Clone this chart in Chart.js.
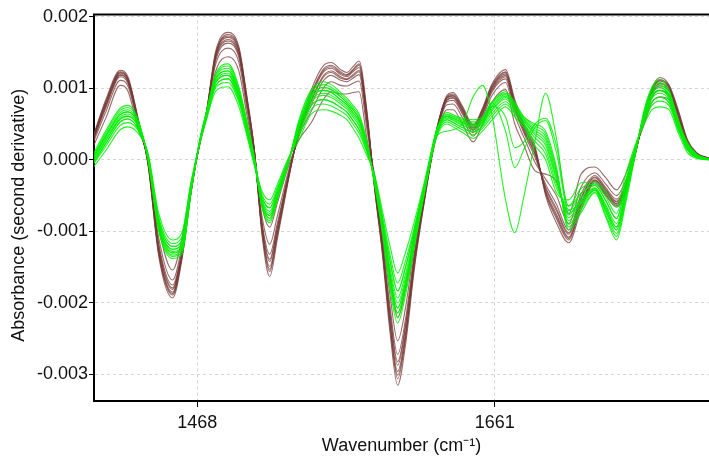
<!DOCTYPE html>
<html>
<head>
<meta charset="utf-8">
<script src="https://cdn.jsdelivr.net/npm/chart.js@4.4.1/dist/chart.umd.min.js"></script>
<style>
  html, body { margin: 0; padding: 0; background: #fff; }
  #wrap { width: 709px; height: 457px; }
</style>
</head>
<body>
<div id="wrap"><canvas id="chart"></canvas></div>
<script>
// wavenumber sample positions (cm-1), shared by every spectrum
const wavenumbers = [1400, 1409, 1418, 1423, 1430, 1436, 1443, 1452, 1458, 1464, 1470, 1474, 1480, 1488, 1495, 1500, 1505,
    1510, 1515, 1520, 1527, 1534, 1542, 1550, 1555, 1561, 1565, 1569, 1573, 1578, 1583, 1588, 1593, 1598, 1603, 1609, 1616,
    1623, 1630, 1634, 1640, 1647, 1653, 1659, 1668, 1674, 1680, 1687, 1694, 1701, 1709, 1717, 1726, 1733, 1740, 1746, 1752,
    1758, 1763, 1768, 1774, 1780, 1786, 1792, 1800];

const xTicks = [1468, 1661];
const yTicks = [-30, -20, -10, 0, 10, 20];   // second derivative, in units of 1e-4

// brown group
const brown1 = [1.6, 6.0, 10.4, 9.6, 4.0, 0.6, -9.5, -15.4, -11.0, -3.4, 2.4, 6.0, 12.4, 14.4, 12.4, 6.5, 0.5,
    -7.9, -11.8, -7.8, -1.7, 3.3, 6.8, 10.1, 10.9, 10.4, 10.3, 10.7, 11.0, 4.4, -2.7, -10.4, -18.8, -25.3, -20.8, -11.8, -3.7,
    3.6, 8.1, 8.3, 6.4, 3.8, 6.2, 9.4, 11.3, 6.9, 3.7, 0.4, -3.4, -6.2, -9.8, -4.8, -2.2, -3.9, -5.5, -3.4, 1.0, 5.8, 9.1, 10.3, 9.6, 5.9, 2.2, 0.7, 0.1];
const brown2 = [2.1, 6.9, 11.1, 10.3, 4.5, 0.2, -10.9, -16.8, -12.1, -3.8, 2.6, 6.3, 13.4, 15.6, 13.6, 7.4, 0.9,
    -6.5, -9.4, -6.0, -1.0, 2.8, 5.2, 8.5, 9.5, 9.2, 9.2, 9.4, 9.5, 3.0, -2.0, -9.0, -16.0, -22.0, -18.0, -10.0, -3.0,
    3.7, 8.4, 8.7, 6.8, 4.2, 6.5, 9.8, 11.8, 7.4, 4.1, 1.0, -4.0, -7.1, -10.4, -5.5, -2.5, -4.3, -5.9, -3.8, 0.8, 6.1, 9.4, 10.7, 9.9, 6.3, 2.4, 0.8, 0.1];
const brown3 = [2.4, 7.4, 11.6, 10.7, 4.8, -0.1, -11.7, -17.5, -12.7, -4.1, 2.7, 6.4, 13.9, 16.3, 14.3, 8.0, 1.1,
    -9.1, -13.9, -9.3, -2.3, 3.7, 8.2, 11.6, 12.2, 11.4, 11.2, 11.7, 12.3, 5.6, -3.3, -11.6, -21.2, -28.2, -23.2, -13.3, -4.3,
    3.0, 7.0, 7.0, 5.0, 2.5, 5.0, 8.0, 9.8, 5.0, 2.0, -1.5, -2.0, -3.0, -7.5, -2.0, -1.0, -2.5, -4.2, -2.0, 1.5, 5.0, 8.0, 8.8, 8.4, 4.6, 1.4, 0.4, 0.0];
const brown4 = [2.5, 7.7, 11.8, 10.9, 4.9, -0.2, -12.1, -17.9, -13.0, -4.2, 2.8, 6.5, 14.2, 16.6, 14.6, 8.3, 1.2,
    -9.7, -14.9, -10.0, -2.6, 3.9, 8.9, 12.3, 12.8, 11.9, 11.6, 12.3, 12.9, 6.2, -3.6, -12.2, -22.4, -29.6, -24.4, -14.0, -4.6,
    3.9, 8.7, 9.0, 7.1, 4.5, 6.9, 10.1, 12.2, 7.9, 4.6, 1.5, -4.5, -7.9, -11.0, -6.3, -2.9, -4.6, -6.2, -4.1, 0.7, 6.3, 9.7, 11.1, 10.2, 6.6, 2.6, 0.9, 0.2];
const brown5 = [2.6, 7.8, 11.9, 11.0, 5.0, -0.2, -12.3, -18.1, -13.1, -4.2, 2.8, 6.6, 14.4, 16.8, 14.8, 8.4, 1.2,
    -8.7, -13.2, -8.8, -2.1, 3.6, 7.7, 11.1, 11.8, 11.1, 10.9, 11.4, 11.9, 5.2, -3.1, -11.2, -20.4, -27.2, -22.4, -12.8, -4.1,
    4.0, 9.0, 9.4, 7.5, 4.9, 7.2, 10.5, 12.6, 8.4, 5.0, 2.0, -5.0, -8.8, -11.6, -7.0, -3.2, -5.0, -6.6, -4.5, 0.5, 6.5, 10.0, 11.5, 10.5, 7.0, 2.8, 1.0, 0.2];
const brown6 = [2.7, 8.1, 12.1, 11.2, 5.1, -0.4, -12.7, -18.5, -13.4, -4.4, 2.9, 6.6, 14.6, 17.1, 15.1, 8.7, 1.3,
    -10.5, -16.3, -11.0, -3.0, 4.2, 9.8, 13.2, 13.6, 12.6, 12.2, 13.0, 13.8, 7.0, -4.0, -13.0, -24.0, -31.5, -26.0, -15.0, -5.0,
    3.7, 8.3, 8.6, 6.6, 4.1, 6.4, 9.6, 11.6, 7.2, 4.0, 0.8, -3.8, -6.8, -10.2, -5.3, -2.4, -4.1, -5.8, -3.6, 0.9, 6.0, 9.3, 10.6, 9.8, 6.2, 2.3, 0.8, 0.1];
const brown7 = [2.8, 8.2, 12.2, 11.3, 5.2, -0.4, -12.9, -18.7, -13.6, -4.4, 2.9, 6.7, 14.8, 17.3, 15.3, 8.8, 1.4,
    -9.9, -15.3, -10.3, -2.7, 4.0, 9.1, 12.5, 13.0, 12.1, 11.8, 12.5, 13.2, 6.4, -3.7, -12.4, -22.8, -30.1, -24.8, -14.3, -4.7,
    3.4, 7.7, 7.8, 5.9, 3.3, 5.8, 8.9, 10.8, 6.2, 3.1, -0.3, -2.7, -5.0, -8.9, -3.8, -1.8, -3.4, -5.0, -2.9, 1.2, 5.5, 8.7, 9.7, 9.1, 5.4, 1.9, 0.6, 0.1];
const brown8 = [2.9, 8.3, 12.3, 11.4, 5.3, -0.5, -13.1, -18.9, -13.7, -4.5, 2.9, 6.7, 14.9, 17.5, 15.5, 8.9, 1.4,
    -9.3, -14.2, -9.5, -2.4, 3.8, 8.4, 11.8, 12.4, 11.6, 11.3, 11.9, 12.5, 5.8, -3.4, -11.8, -21.6, -28.7, -23.6, -13.5, -4.4,
    3.9, 8.8, 9.2, 7.3, 4.7, 7.0, 10.3, 12.3, 8.1, 4.7, 1.7, -4.7, -8.2, -11.2, -6.5, -3.0, -4.8, -6.4, -4.3, 0.6, 6.4, 9.8, 11.2, 10.3, 6.8, 2.7, 0.9, 0.2];
const brown9 = [3.0, 8.6, 12.5, 11.6, 5.4, -0.6, -13.5, -19.3, -14.0, -4.6, 3.0, 6.8, 15.2, 17.8, 15.8, 9.2, 1.5,
    -10.1, -15.6, -10.5, -2.8, 4.1, 9.3, 12.7, 13.2, 12.3, 11.9, 12.6, 13.4, 6.6, -3.8, -12.6, -23.2, -30.6, -25.2, -14.5, -4.8,
    3.8, 8.6, 8.9, 7.0, 4.4, 6.8, 10.0, 12.0, 7.7, 4.4, 1.3, -4.3, -7.6, -10.8, -6.0, -2.8, -4.5, -6.1, -4.0, 0.7, 6.2, 9.6, 11.0, 10.1, 6.5, 2.5, 0.9, 0.2];

// green group
const green1 = [-1.2, 1.4, 4.2, 4.6, 3.6, 1.0, -7.5, -11.2, -10.2, -3.0, 2.6, 5.6, 9.6, 10.2, 7.4, 3.5, -0.8,
    -5.2, -6.7, -4.2, -0.1, 3.8, 7.6, 8.4, 8.1, 7.3, 6.7, 5.5, 4.2, 1.3, -2.5, -8.1, -14.1, -18.3, -15.1, -9.7, -3.0,
    3.7, 6.1, 5.8, 5.2, 4.8, 5.4, 7.3, 8.9, 7.4, 5.6, 4.1, 2.8, -2.1, -8.5, -6.1, -4.2, -7.0, -9.8, -4.8, 1.0, 6.4, 9.2, 10.1, 9.0, 5.1, 2.0, 0.7, 0.1];
const green2 = [-0.8, 2.0, 4.8, 5.2, 4.0, 0.8, -8.0, -11.7, -10.8, -3.3, 2.7, 5.8, 10.1, 10.8, 8.0, 3.9, -0.6,
    -4.4, -5.6, -3.4, 0.2, 2.8, 6.4, 7.0, 6.8, 6.2, 5.6, 4.4, 3.0, 0.6, -2.0, -7.0, -12.0, -15.8, -13.0, -8.5, -2.5,
    4.0, 6.6, 6.3, 5.8, 5.6, 6.0, 8.0, 9.5, 8.0, 6.0, 5.0, 4.0, -1.0, -9.8, -7.4, -4.6, -8.0, -11.2, -6.0, 0.5, 7.0, 10.2, 11.2, 9.8, 5.6, 2.4, 0.8, 0.1];
const green3 = [-0.6, 2.4, 5.3, 5.7, 4.2, 0.7, -8.4, -12.1, -11.3, -3.5, 2.8, 6.0, 10.4, 11.3, 8.4, 4.2, -0.4,
    -5.7, -7.5, -4.7, -0.3, 4.5, 8.4, 9.3, 9.0, 8.1, 7.4, 6.3, 5.0, 1.8, -2.8, -8.8, -15.6, -20.0, -16.6, -10.6, -3.4,
    3.2, 5.3, 4.9, 4.2, 3.5, 4.4, 6.0, 7.8, 6.4, 4.8, 2.6, 0.8, -3.9, -6.4, -4.0, -3.4, -5.2, -7.5, -2.8, 1.7, 5.4, 7.6, 8.2, 7.6, 4.2, 1.3, 0.3, 0.0];
const green4 = [-0.3, 2.8, 5.7, 6.1, 4.5, 0.5, -8.8, -12.5, -11.7, -3.8, 2.9, 6.2, 10.8, 11.8, 8.8, 4.6, -0.2,
    -6.2, -8.2, -5.2, -0.4, 5.0, 9.1, 10.1, 9.8, 8.8, 8.0, 7.0, 5.7, 2.2, -3.1, -9.4, -16.8, -21.4, -17.8, -11.3, -3.7,
    3.5, 5.8, 5.5, 4.8, 4.3, 5.0, 6.8, 8.5, 7.0, 5.3, 3.5, 2.0, -2.8, -7.7, -5.3, -3.9, -6.3, -8.9, -4.0, 1.3, 6.0, 8.6, 9.3, 8.4, 4.7, 1.7, 0.5, 0.1];
const green5 = [-0.1, 3.1, 6.0, 6.4, 4.7, 0.4, -9.0, -12.8, -12.0, -3.9, 3.0, 6.3, 11.0, 12.1, 9.1, 4.8, -0.1,
    -4.8, -6.2, -3.8, 0.0, 3.4, 7.1, 7.8, 7.5, 6.8, 6.2, 5.0, 3.7, 1.0, -2.3, -7.6, -13.2, -17.2, -14.2, -9.2, -2.8,
    3.8, 6.3, 6.0, 5.4, 5.1, 5.6, 7.5, 9.1, 7.6, 5.7, 4.4, 3.2, -1.7, -9.0, -6.6, -4.3, -7.3, -10.3, -5.2, 0.8, 6.6, 9.6, 10.4, 9.2, 5.2, 2.1, 0.7, 0.1];
const green6 = [0.1, 3.4, 6.3, 6.7, 4.9, 0.3, -9.3, -13.0, -12.3, -4.1, 3.0, 6.4, 11.3, 12.4, 9.4, 5.0, 0.0,
    -6.6, -8.8, -5.6, -0.6, 5.6, 9.8, 10.9, 10.5, 9.4, 8.6, 7.6, 6.4, 2.6, -3.4, -10.0, -18.0, -22.8, -19.0, -12.0, -4.0,
    3.0, 5.0, 4.6, 3.8, 3.0, 4.0, 5.5, 7.4, 6.0, 4.5, 2.0, 0.0, -4.6, -5.6, -3.2, -3.1, -4.5, -6.6, -2.0, 2.0, 5.0, 7.0, 7.4, 7.0, 3.8, 1.0, 0.2, 0.0];
const green7 = [0.2, 3.6, 6.6, 7.0, 5.0, 0.2, -9.5, -13.3, -12.6, -4.2, 3.1, 6.6, 11.5, 12.8, 9.6, 5.2, 0.2,
    -5.5, -7.2, -4.5, -0.2, 4.2, 8.1, 9.0, 8.7, 7.8, 7.1, 6.0, 4.7, 1.6, -2.7, -8.5, -15.0, -19.3, -16.0, -10.3, -3.3,
    3.9, 6.4, 6.1, 5.6, 5.3, 5.8, 7.8, 9.3, 7.8, 5.9, 4.7, 3.6, -1.4, -9.4, -7.0, -4.5, -7.7, -10.7, -5.6, 0.7, 6.8, 9.9, 10.8, 9.5, 5.4, 2.3, 0.7, 0.1];
const green8 = [0.4, 3.9, 6.9, 7.3, 5.2, 0.1, -9.8, -13.5, -12.9, -4.4, 3.1, 6.7, 11.8, 13.1, 9.9, 5.4, 0.3,
    -6.0, -7.8, -5.0, -0.4, 4.8, 8.8, 9.7, 9.4, 8.4, 7.7, 6.6, 5.4, 2.0, -3.0, -9.1, -16.2, -20.7, -17.2, -11.0, -3.6,
    3.4, 5.6, 5.2, 4.5, 3.9, 4.7, 6.4, 8.1, 6.7, 5.0, 3.1, 1.4, -3.4, -7.1, -4.7, -3.6, -5.7, -8.2, -3.4, 1.5, 5.7, 8.1, 8.7, 8.0, 4.4, 1.5, 0.4, 0.0];
const green9 = [0.6, 4.2, 7.2, 7.6, 5.4, 0.0, -10.0, -13.8, -13.2, -4.5, 3.2, 6.8, 12.0, 13.4, 10.2, 5.6, 0.4,
    -6.4, -8.5, -5.4, -0.5, 5.3, 9.5, 10.5, 10.1, 9.1, 8.3, 7.3, 6.1, 2.4, -3.3, -9.7, -17.4, -22.1, -18.4, -11.7, -3.9,
    3.6, 6.0, 5.6, 5.0, 4.6, 5.2, 7.0, 8.7, 7.2, 5.4, 3.8, 2.4, -2.5, -8.1, -5.7, -4.0, -6.6, -9.4, -4.4, 1.1, 6.2, 8.9, 9.7, 8.7, 4.9, 1.8, 0.6, 0.1];
// the odd green spectra around 1650-1700
const green10 = [-0.3, 2.8, 5.7, 6.1, 4.5, 0.5, -8.8, -12.5, -11.7, -3.8, 2.9, 6.2, 10.8, 11.8, 8.8, 4.6, -0.2,
    -6.0, -7.8, -5.0, -0.4, 4.8, 8.8, 9.7, 9.4, 8.4, 7.7, 6.6, 5.4, 2.0, -3.0, -9.1, -16.2, -20.7, -17.2, -11.0, -3.6,
    3.2, 4.0, 4.2, 5.0, 8.8, 10.4, 6.5, -5.6, -10.2, -5.0, 2.5, 9.3, 3.0, -7.5, -5.7, -4.0, -6.6, -9.4, -4.4, 1.1, 6.2, 8.9, 9.7, 8.7, 4.9, 1.8, 0.6, 0.1];
const green11 = [0.1, 3.4, 6.3, 6.7, 4.9, 0.3, -9.3, -13.0, -12.3, -4.1, 3.0, 6.4, 11.3, 12.4, 9.4, 5.0, 0.0,
    -5.2, -6.7, -4.2, -0.1, 3.8, 7.6, 8.4, 8.1, 7.3, 6.7, 5.5, 4.2, 1.3, -2.5, -8.1, -14.1, -18.3, -15.1, -9.7, -3.0,
    3.7, 6.1, 5.8, 5.2, 4.8, 5.4, 8.0, 4.0, -1.1, 1.5, 4.5, 5.5, 1.0, -7.0, -6.1, -4.2, -7.0, -9.8, -4.8, 1.0, 6.4, 9.2, 10.1, 9.0, 5.1, 2.0, 0.7, 0.1];
const green12 = [-0.6, 2.4, 5.3, 5.7, 4.2, 0.7, -8.4, -12.1, -11.3, -3.5, 2.8, 6.0, 10.4, 11.3, 8.4, 4.2, -0.4,
    -6.2, -8.2, -5.2, -0.4, 5.0, 9.1, 10.1, 9.8, 8.8, 8.0, 7.0, 5.7, 2.2, -3.1, -9.4, -16.8, -21.4, -17.8, -11.3, -3.7,
    3.4, 5.6, 5.2, 4.5, 3.9, 4.7, 7.5, 6.0, 1.7, 2.5, 5.0, 5.8, 2.0, -6.5, -4.7, -3.6, -5.7, -8.2, -3.4, 1.5, 5.7, 8.1, 8.7, 8.0, 4.4, 1.5, 0.4, 0.0];

const browns = [brown1, brown2, brown3, brown4, brown5, brown6, brown7, brown8, brown9];
const greens = [green10, green11, green12, green1, green2, green3, green4, green5, green6, green7, green8, green9];

const txtFont = { family: "'Liberation Sans', Arial, sans-serif", size: 18 };
const txtColor = '#111';

function spectrum(vals, color) {
    return {
        data: vals.map((v, i) => ({ x: wavenumbers[i], y: v })),
        borderColor: color,
        borderWidth: 1.1,
        pointRadius: 0,
        fill: false,
        cubicInterpolationMode: 'monotone'
    };
}

// first dataset is painted last, so greens go first to sit on top
let sets = [];
greens.forEach(g => sets.push(spectrum(g, 'rgba(0, 238, 0, 0.85)')));
browns.forEach(b => sets.push(spectrum(b, 'rgba(118, 56, 54, 0.75)')));

const topLine = {
    id: 'topLine',
    afterDraw(chart) {
        const { ctx, chartArea } = chart;
        ctx.save();
        ctx.strokeStyle = '#000';
        ctx.lineWidth = 2;
        ctx.beginPath();
        ctx.moveTo(chartArea.left - 1, chartArea.top);
        ctx.lineTo(chartArea.right, chartArea.top);
        ctx.stroke();
        ctx.restore();
    }
};

let ctx = document.getElementById('chart');

new Chart(ctx, {
    type: 'line',
    data: { datasets: sets },
    options: {
        responsive: true,
        maintainAspectRatio: false,
        animation: false,
        devicePixelRatio: 1,
        layout: { padding: { top: 14.5, left: 0, right: 0, bottom: 0 } },
        plugins: {
            legend: { display: false },
            tooltip: { enabled: false }
        },
        scales: {
            x: {
                type: 'linear',
                min: 1401,
                max: 1800,
                afterBuildTicks: s => { s.ticks = xTicks.map(v => ({ value: v })); },
                afterFit: s => { s.height = 56; },
                ticks: { font: txtFont, color: txtColor, padding: 5, maxRotation: 0, callback: v => String(v) },
                grid: { color: '#d4d4d4', lineWidth: 1, tickLength: 6, tickColor: '#000', tickWidth: 1 },
                border: { display: true, color: '#000', width: 2, dash: [3, 3] },
                title: { display: true, text: 'Wavenumber (cm⁻¹)', font: txtFont, color: txtColor, padding: { top: 0, bottom: 0 } }
            },
            y: {
                type: 'linear',
                min: -33.7,
                max: 20.3,
                afterBuildTicks: s => { s.ticks = yTicks.map(v => ({ value: v })); },
                afterFit: s => { s.width = 94; },
                ticks: { font: txtFont, color: txtColor, padding: 1, callback: v => (v / 10000).toFixed(3) },
                grid: { color: '#d4d4d4', lineWidth: 1, tickLength: 5, tickColor: '#000', tickWidth: 1 },
                border: { display: true, color: '#000', width: 2, dash: [3, 3] },
                // trailing spaces nudge the centred title down to where the original sits
                title: { display: true, text: 'Absorbance (second derivative)   ', font: txtFont, color: txtColor, padding: { top: 8, bottom: 0 } }
            }
        }
    },
    plugins: [topLine]
});
</script>
</body>
</html>
